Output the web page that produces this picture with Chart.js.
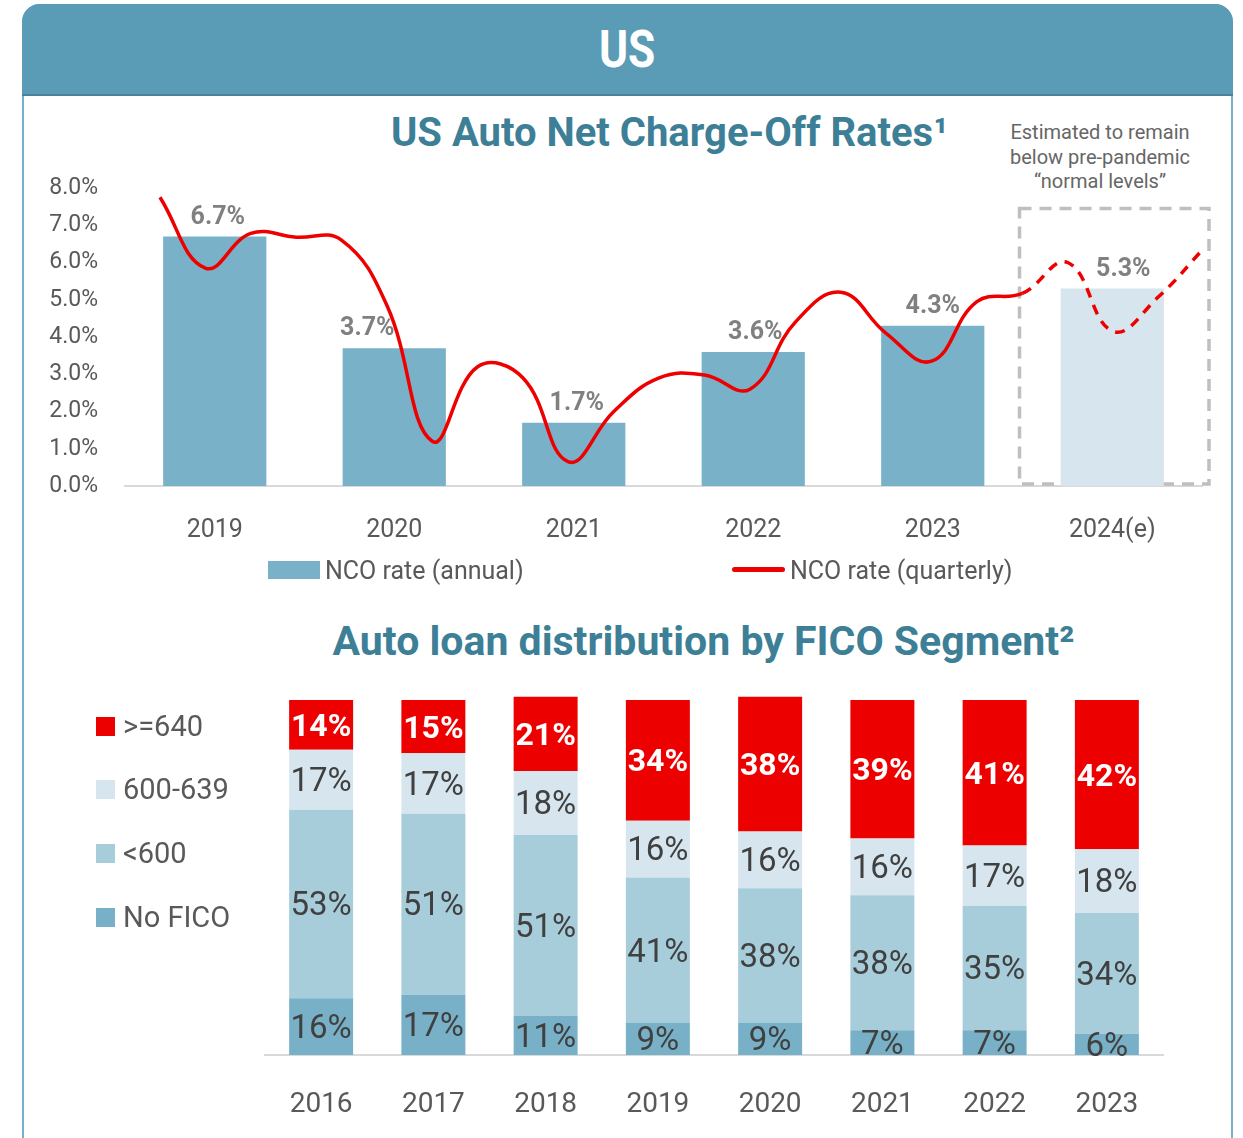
<!DOCTYPE html>
<html>
<head>
<meta charset="utf-8">
<script src="https://cdn.jsdelivr.net/npm/chart.js@4.4.1/dist/chart.umd.min.js"></script>
<style>
  html, body { margin: 0; padding: 0; background: #ffffff; }
  body { width: 1243px; height: 1138px; position: relative; overflow: hidden; font-family: Roboto, 'Noto Sans', sans-serif; }
  #frame { position: absolute; left: 22px; top: 4px; width: 1207px; height: 1200px; border: 2px solid #78b1c7; border-radius: 18px 18px 0 0; box-sizing: content-box; }
  #banner { position: absolute; left: 22px; top: 4px; width: 1211px; height: 90px; background: #5a9bb5; border-radius: 18px 18px 0 0; border-bottom: 2px solid #4a8197; text-align: center; }
  #banner span { display: inline-block; color: #ffffff; font-weight: 700; font-size: 52px; line-height: 92px; transform: scaleX(0.85); }
  .title { position: absolute; width: 1243px; text-align: center; color: #3d7f96; font-weight: 700; white-space: nowrap; }
  #note { position: absolute; left: 980px; top: 120px; width: 240px; text-align: center; color: #666666; font-size: 20px; line-height: 24.5px; }
  canvas { position: absolute; left: 0; }
  .leg { position: absolute; color: #595959; white-space: nowrap; }
  .sw { position: absolute; }
</style>
</head>
<body>
<div id="frame"></div>
<div id="banner"><span>US</span></div>

<div class="title" style="left:48px;top:109px;font-size:40px;">US Auto Net Charge-Off Rates¹</div>
<div id="note">Estimated to remain<br>below pre-pandemic<br>“normal levels”</div>

<canvas id="nco" width="1243" height="600" style="top:0;"></canvas>

<div class="sw" style="left:268px;top:561px;width:52px;height:18px;background:#79b2c8;"></div>
<div class="leg" style="left:325px;top:555px;font-size:25px;line-height:32px;">NCO rate (annual)</div>
<div class="sw" style="left:732px;top:567px;width:53px;height:5px;background:#ee0000;border-radius:3px;"></div>
<div class="leg" style="left:790px;top:555px;font-size:25px;line-height:32px;">NCO rate (quarterly)</div>

<div class="title" style="left:82px;top:617px;font-size:41px;">Auto loan distribution by FICO Segment²</div>

<canvas id="fico" width="1243" height="538" style="top:600px;"></canvas>

<div class="sw" style="left:96px;top:717px;width:19px;height:19px;background:#ec0000;"></div>
<div class="leg" style="left:123px;top:708px;font-size:29px;line-height:36px;">&gt;=640</div>
<div class="sw" style="left:96px;top:780px;width:19px;height:19px;background:#d7e6ee;"></div>
<div class="leg" style="left:123px;top:771px;font-size:29px;line-height:36px;">600-639</div>
<div class="sw" style="left:96px;top:844px;width:19px;height:19px;background:#a7cddb;"></div>
<div class="leg" style="left:123px;top:835px;font-size:29px;line-height:36px;">&lt;600</div>
<div class="sw" style="left:96px;top:908px;width:19px;height:19px;background:#78b1c7;"></div>
<div class="leg" style="left:123px;top:899px;font-size:29px;line-height:36px;">No FICO</div>

<script>
// ---- Net charge-off rates ----
const ncoYears = ['2019', '2020', '2021', '2022', '2023', '2024(e)'];
const ncoAnnual = [6.7, 3.7, 1.7, 3.6, 4.3, 5.3];
const ncoQuarters = [
  '2019 Q1', '2019 Q2', '2019 Q3', '2019 Q4',
  '2020 Q1', '2020 Q2', '2020 Q3', '2020 Q4',
  '2021 Q1', '2021 Q2', '2021 Q3', '2021 Q4',
  '2022 Q1', '2022 Q2', '2022 Q3', '2022 Q4',
  '2023 Q1', '2023 Q2', '2023 Q3', '2023 Q4',
  '2024 Q1', '2024 Q2', '2024 Q3', '2024 Q4'
];
const ncoQuarterly = [
  7.75, 5.85, 6.78, 6.68,
  6.60, 4.85, 1.20, 3.20,
  2.90, 0.65, 2.00, 2.90,
  2.98, 2.60, 4.40, 5.20,
  4.10, 3.35, 4.95, 5.17,
  6.00, 4.15, 5.08, 6.38
];
const ncoYTicks = [0, 1, 2, 3, 4, 5, 6, 7, 8];
const estimateFrom = '2023 Q4';   // segments after this quarter are projections

// ---- FICO distribution (%) ----
const ficoYears = ['2016', '2017', '2018', '2019', '2020', '2021', '2022', '2023'];
const ficoNone = [16, 17, 11, 9, 9, 7, 7, 6];
const ficoUnder600 = [53, 51, 51, 41, 38, 38, 35, 34];
const fico600to639 = [17, 17, 18, 16, 16, 16, 17, 18];
const fico640plus = [14, 15, 21, 34, 38, 39, 41, 42];

const FONT = "Roboto, 'Noto Sans', sans-serif";
const estimateIdx = ncoQuarters.indexOf(estimateFrom);

// value labels above annual bars (small sideways nudges keep them clear of the line)
const barValueLabels = {
  id: 'barValueLabels',
  afterDatasetDraw(chart, args, opts) {
    if (args.index !== 0) return;
    const ctx = chart.ctx;
    const meta = chart.getDatasetMeta(0);
    ctx.save();
    ctx.font = `700 25px ${FONT}`;
    ctx.fillStyle = '#808080';
    ctx.textAlign = 'center';
    ctx.textBaseline = 'middle';
    meta.data.forEach((bar, i) => {
      const v = chart.data.datasets[0].data[i];
      ctx.fillText(v.toFixed(1) + '%', bar.x + (opts.shift[i] || 0), bar.y - 19);
    });
    ctx.restore();
  }
};

// dashed frame around the estimated year
const estimateFrame = {
  id: 'estimateFrame',
  beforeDatasetsDraw(chart) {
    const x = chart.scales.x, y = chart.scales.y, area = chart.chartArea;
    const half = (x.getPixelForValue(1) - x.getPixelForValue(0)) / 2;
    const left = x.getPixelForValue(ncoYears.length - 1) - half - 3;
    const right = area.right + 7;
    const top = y.getPixelForValue(7.45);
    const bottom = y.getPixelForValue(0) - 2;
    const ctx = chart.ctx;
    ctx.save();
    ctx.strokeStyle = '#bfbfbf';
    ctx.lineWidth = 3.5;
    ctx.setLineDash([12, 8]);
    ctx.strokeRect(left, top, right - left, bottom - top);
    ctx.restore();
  }
};

new Chart(document.getElementById('nco'), {
  type: 'bar',
  data: {
    labels: ncoYears,
    datasets: [
      {
        label: 'NCO rate (annual)',
        data: ncoAnnual,
        backgroundColor: ncoYears.map((y, i) => i === ncoYears.length - 1 ? '#d7e6ee' : '#79b2c8'),
        barPercentage: 0.575,
        categoryPercentage: 1,
        grouped: false,
        order: 2
      },
      {
        type: 'line',
        label: 'NCO rate (quarterly)',
        data: ncoQuarterly.map((v, i) => ({ x: i, y: v })),
        xAxisID: 'xq',
        borderColor: '#ee0000',
        borderWidth: 3.5,
        tension: 0.42,
        pointRadius: 0,
        fill: false,
        order: 1,
        segment: {
          borderDash: ctx => ctx.p0DataIndex >= estimateIdx ? [10, 8] : undefined
        }
      }
    ]
  },
  options: {
    responsive: false,
    animation: false,
    layout: { padding: { top: 188, right: 41, bottom: 54, left: 0 } },
    plugins: {
      legend: { display: false },
      tooltip: { enabled: false },
      barValueLabels: { shift: [3, -27, 3, 2, 0, 11] }
    },
    scales: {
      x: {
        type: 'category',
        grid: { drawOnChartArea: false, drawTicks: false },
        border: { display: true, color: '#d9d9d9', width: 2 },
        ticks: { color: '#595959', font: { family: FONT, size: 25 }, padding: 30 },
        afterFit: s => { s.height = 60; }
      },
      xq: {
        type: 'linear',
        display: false,
        offset: false,
        grid: { offset: false },
        min: -0.77,
        max: 22.96
      },
      y: {
        min: 0,
        max: 8,
        afterBuildTicks: s => { s.ticks = ncoYTicks.map(v => ({ value: v })); },
        grid: { display: false, drawTicks: false },
        border: { display: false },
        ticks: { color: '#595959', font: { family: FONT, size: 23 }, padding: 27, callback: v => v.toFixed(1) + '%' },
        afterFit: s => { s.width = 125; }
      }
    }
  },
  plugins: [barValueLabels, estimateFrame]
});

// labels centred in each stacked segment
const segmentLabels = {
  id: 'segmentLabels',
  afterDatasetsDraw(chart) {
    const ctx = chart.ctx;
    ctx.save();
    ctx.textAlign = 'center';
    ctx.textBaseline = 'middle';
    chart.data.datasets.forEach((ds, di) => {
      const meta = chart.getDatasetMeta(di);
      const top = di === chart.data.datasets.length - 1;
      ctx.font = top ? `700 32px ${FONT}` : `400 33px ${FONT}`;
      ctx.fillStyle = top ? '#ffffff' : '#404040';
      meta.data.forEach((bar, i) => {
        ctx.fillText(ds.data[i] + '%', bar.x, (bar.y + bar.base) / 2 + 3);
      });
    });
    ctx.restore();
  }
};

const ficoSeries = [
  { label: 'No FICO', data: ficoNone, color: '#78b1c7' },
  { label: '<600', data: ficoUnder600, color: '#a7cddb' },
  { label: '600-639', data: fico600to639, color: '#d7e6ee' },
  { label: '>=640', data: fico640plus, color: '#ec0000' }
];

new Chart(document.getElementById('fico'), {
  type: 'bar',
  data: {
    labels: ficoYears,
    datasets: ficoSeries.map(s => ({
      label: s.label,
      data: s.data,
      backgroundColor: s.color,
      barPercentage: 0.57,
      categoryPercentage: 1
    }))
  },
  options: {
    responsive: false,
    animation: false,
    layout: { padding: { top: 96.5, right: 80, bottom: 13, left: 265 } },
    plugins: { legend: { display: false }, tooltip: { enabled: false } },
    scales: {
      x: {
        stacked: true,
        grid: { drawOnChartArea: false, drawTicks: false },
        border: { display: true, color: '#d9d9d9', width: 2 },
        ticks: { color: '#595959', font: { family: FONT, size: 28 }, padding: 33 },
        afterFit: s => { s.height = 70; }
      },
      y: {
        stacked: true,
        display: false,
        min: 0,
        max: 101
      }
    }
  },
  plugins: [segmentLabels]
});
</script>
</body>
</html>
